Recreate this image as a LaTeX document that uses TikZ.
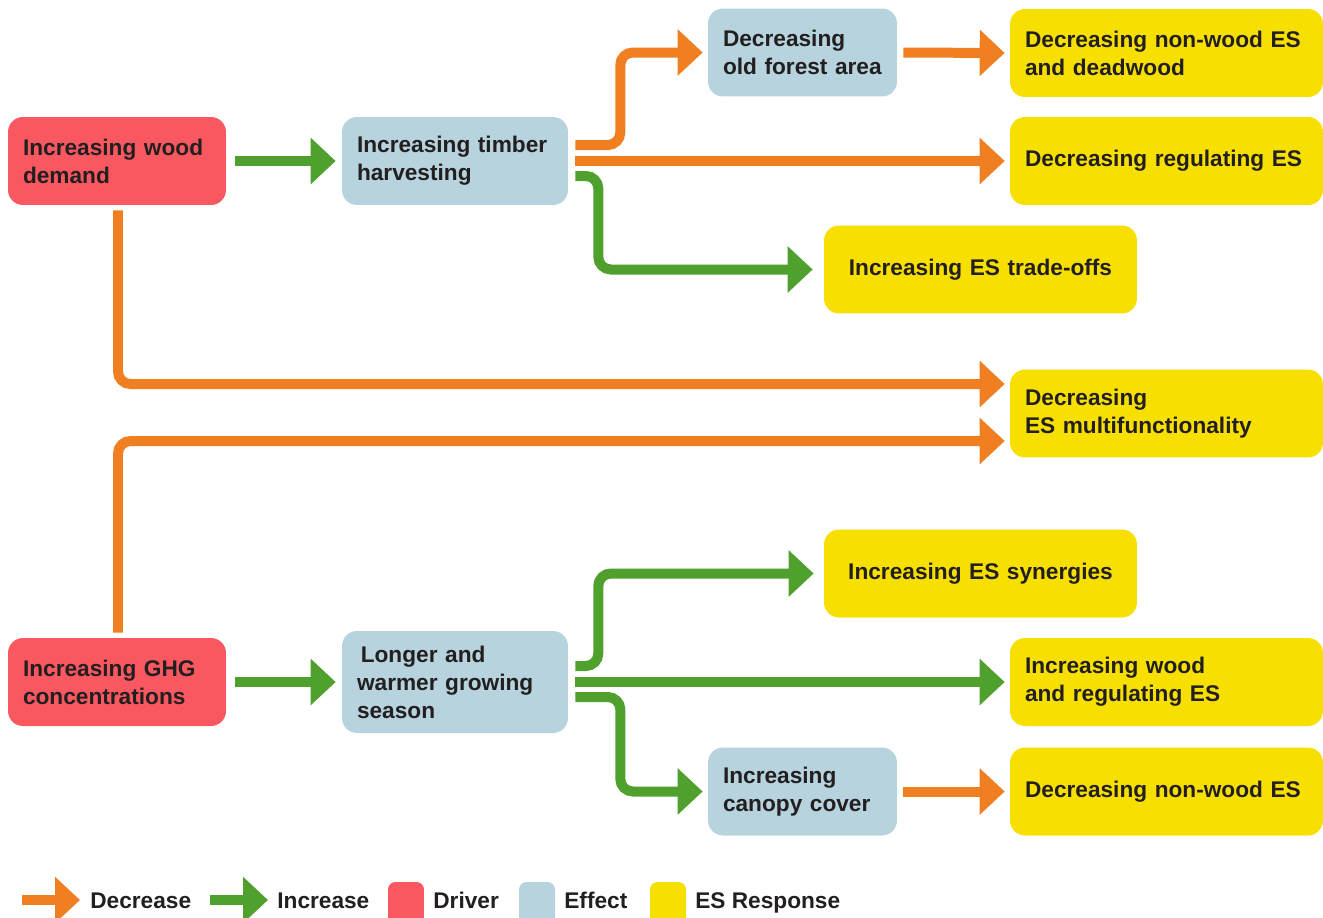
\documentclass[tikz,border=0pt]{standalone}
\usepackage{fontspec}
\setmainfont{Liberation Sans}
\usetikzlibrary{arrows.meta}
\definecolor{drvred}{RGB}{250,88,96}
\definecolor{effblue}{RGB}{183,211,222}
\definecolor{resyellow}{RGB}{247,224,0}
\definecolor{decorange}{RGB}{240,127,34}
\definecolor{incgreen}{RGB}{80,160,46}
\definecolor{txt}{RGB}{35,31,32}

\begin{document}
\begin{tikzpicture}
[x=0.02cm,y=-0.02cm,
>={Triangle[length=0.5cm,width=0.9cm]},
mybox/.style={rectangle,rounded corners=0.3cm,minimum height=1.76cm,inner xsep=0.3cm,align=left,text=txt,font=\fontsize{12.9}{15.9}\selectfont\bfseries},
drv/.style={mybox,fill=drvred,text width=3.76cm},
eff/.style={mybox,fill=effblue,text width=3.92cm},
effs/.style={mybox,fill=effblue,text width=3.18cm},
res/.style={mybox,fill=resyellow,text width=5.66cm},
dec/.style={->,line width=0.2cm,draw=decorange,rounded corners=0.25cm},
inc/.style={->,line width=0.2cm,draw=incgreen,rounded corners=0.25cm},
legbox/.style={rectangle,rounded corners=0.15cm,minimum width=0.72cm,minimum height=1cm},
leg/.style={anchor=base west,inner sep=0pt,text=txt,font=\fontsize{12.9}{15.9}\selectfont\bfseries},
]
\path[use as bounding box,clip] (0,0) rectangle (1323,917);

\node [drv] (A) at (117,161){Increasing wood \\ demand};
\node [eff] (B) at (455,161){Increasing timber \\ harvesting};
\node [effs] (C) at (802.5,52.5){Decreasing \\ old forest area};
\node [res] (D) at (1166.5,53){Decreasing non-wood ES \\ and deadwood};
\node [res] (E) at (1166.5,161){Decreasing regulating ES};
\node [res,align=center] (F) at (980.5,269.5){Increasing ES trade-offs};
\node [res] (G) at (1166.5,413.5){Decreasing \\ ES multifunctionality};
\node [res,align=center] (H) at (980.5,573.5){Increasing ES synergies};
\node [drv] (I) at (117,682){Increasing GHG \\ concentrations};
\node [eff,minimum height=2.04cm] (J) at (455,682){\,Longer and \\ warmer growing \\ season};
\node [res] (K) at (1166.5,682){Increasing wood \\ and regulating ES};
\node [effs] (L) at (802.5,791.5){Increasing \\ canopy cover};
\node [res] (M) at (1166.5,791.5){Decreasing non-wood ES};

% wood demand branch
\draw[inc] ([xshift=0.18cm]A.east) -- ([xshift=-0.12cm]B.west);
\draw[dec] ([xshift=0.14cm,yshift=0.32cm]B.east) -- ++(45,0) |- ([xshift=-0.1cm]C.west);
\draw[dec] ([xshift=0.14cm]B.east) -- ([xshift=-0.1cm]E.west);
\draw[inc] ([xshift=0.14cm,yshift=-0.3cm]B.east) -- ++(23,0) |- ([xshift=-0.22cm]F.west);
\draw[dec] ([xshift=0.12cm]C.east) -- ([xshift=-0.1cm]D.west);
\draw[dec] ([xshift=0.02cm,yshift=-0.1cm]A.south) |- ([xshift=-0.1cm,yshift=0.59cm]G.west);

% GHG branch
\draw[dec] ([xshift=0.02cm,yshift=0.1cm]I.north) |- ([xshift=-0.1cm,yshift=-0.55cm]G.west);
\draw[inc] ([xshift=0.18cm]I.east) -- ([xshift=-0.12cm]J.west);
\draw[inc] ([xshift=0.14cm,yshift=0.32cm]J.east) -- ++(23,0) |- ([xshift=-0.2cm]H.west);
\draw[inc] ([xshift=0.14cm]J.east) -- ([xshift=-0.1cm]K.west);
\draw[inc] ([xshift=0.14cm,yshift=-0.3cm]J.east) -- ++(45,0) |- ([xshift=-0.1cm]L.west);
\draw[dec] ([xshift=0.12cm]L.east) -- ([xshift=-0.1cm]M.west);

% legend
\node [leg] (ldec) at (90,908){Decrease};
\node [leg] (linc) at (277,908){Increase};
\node [legbox,fill=drvred] (ldrv) at (406,907){};
\node [leg] (ldrvt) at (433,908){Driver};
\node [legbox,fill=effblue] (leff) at (537,907){};
\node [leg] (lefft) at (564,908){Effect};
\node [legbox,fill=resyellow] (lres) at (668,907){};
\node [leg] (lrest) at (695,908){ES Response};
\draw[dec] ([xshift=-1.36cm,yshift=0.16cm]ldec.base west) -- ([xshift=-0.2cm,yshift=0.16cm]ldec.base west);
\draw[inc] ([xshift=-1.34cm,yshift=0.16cm]linc.base west) -- ([xshift=-0.18cm,yshift=0.16cm]linc.base west);
\end{tikzpicture}
\end{document}
